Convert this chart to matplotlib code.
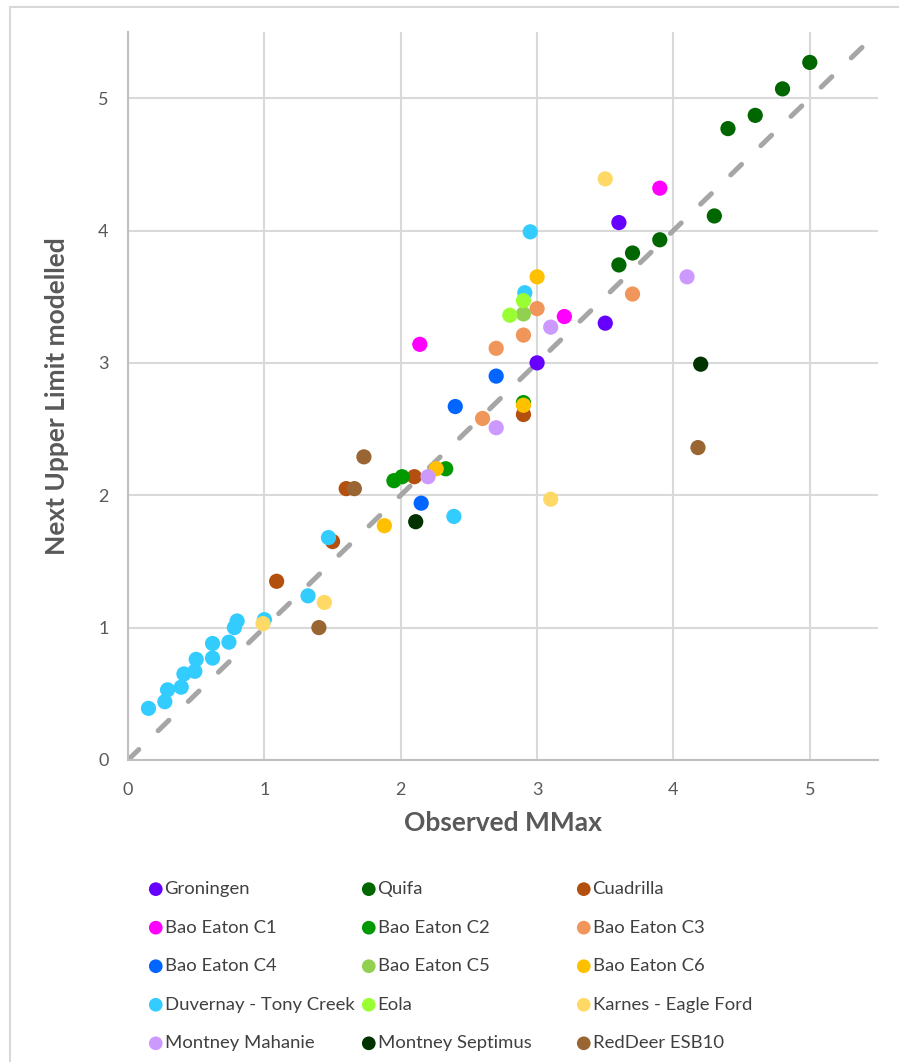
import numpy as np
import matplotlib
matplotlib.use("Agg")
import matplotlib.pyplot as plt
from matplotlib.patches import Rectangle

plt.rcParams['font.family'] = ['Lato', 'DejaVu Sans']

# Series names and colours, in legend (row-major) order
names = [
    "Groningen", "Quifa", "Cuadrilla",
    "Bao Eaton C1", "Bao Eaton C2", "Bao Eaton C3",
    "Bao Eaton C4", "Bao Eaton C5", "Bao Eaton C6",
    "Duvernay - Tony Creek", "Eola", "Karnes - Eagle Ford",
    "Montney Mahanie", "Montney Septimus", "RedDeer ESB10",
]
colors = [
    "#6600FF", "#006600", "#B4500F",
    "#FF00FF", "#009900", "#F0965A",
    "#0066FF", "#92D050", "#FFC000",
    "#33CCFF", "#99FF33", "#FFD966",
    "#CC99FF", "#003300", "#996633",
]

# Observed MMax (x) and next upper limit modelled (y) per series
groningen_x = [3.0, 3.5, 3.6]
groningen_y = [3.0, 3.3, 4.06]
quifa_x = [3.6, 3.7, 3.9, 4.3, 4.4, 4.6, 4.8, 5.0]
quifa_y = [3.74, 3.83, 3.93, 4.11, 4.77, 4.87, 5.07, 5.27]
cuadrilla_x = [1.09, 1.50, 1.60, 2.10, 2.90]
cuadrilla_y = [1.35, 1.65, 2.05, 2.14, 2.61]
bao_c1_x = [2.14, 3.20, 3.90]
bao_c1_y = [3.14, 3.35, 4.32]
bao_c2_x = [1.95, 2.01, 2.33, 2.90]
bao_c2_y = [2.11, 2.14, 2.20, 2.70]
bao_c3_x = [2.60, 2.70, 2.90, 3.00, 3.70]
bao_c3_y = [2.58, 3.11, 3.21, 3.41, 3.52]
bao_c4_x = [2.15, 2.40, 2.70]
bao_c4_y = [1.94, 2.67, 2.90]
bao_c5_x = [2.90]
bao_c5_y = [3.37]
bao_c6_x = [1.88, 2.26, 2.90, 3.00]
bao_c6_y = [1.77, 2.20, 2.68, 3.65]
duvernay_x = [0.15, 0.27, 0.29, 0.39, 0.41, 0.49, 0.50, 0.62, 0.62, 0.74,
              0.78, 0.80, 1.00, 1.32, 1.47, 2.39, 2.91, 2.95]
duvernay_y = [0.39, 0.44, 0.53, 0.55, 0.65, 0.67, 0.76, 0.77, 0.88, 0.89,
              1.00, 1.05, 1.06, 1.24, 1.68, 1.84, 3.53, 3.99]
eola_x = [2.80, 2.90]
eola_y = [3.36, 3.47]
karnes_x = [0.99, 1.44, 3.10, 3.50]
karnes_y = [1.03, 1.19, 1.97, 4.39]
mahanie_x = [2.20, 2.70, 3.10, 4.10]
mahanie_y = [2.14, 2.51, 3.27, 3.65]
septimus_x = [2.11, 4.20]
septimus_y = [1.80, 2.99]
reddeer_x = [1.40, 1.66, 1.73, 4.18]
reddeer_y = [1.00, 2.05, 2.29, 2.36]

xs = [groningen_x, quifa_x, cuadrilla_x, bao_c1_x, bao_c2_x, bao_c3_x,
      bao_c4_x, bao_c5_x, bao_c6_x, duvernay_x, eola_x, karnes_x,
      mahanie_x, septimus_x, reddeer_x]
ys = [groningen_y, quifa_y, cuadrilla_y, bao_c1_y, bao_c2_y, bao_c3_y,
      bao_c4_y, bao_c5_y, bao_c6_y, duvernay_y, eola_y, karnes_y,
      mahanie_y, septimus_y, reddeer_y]

ticks = [0, 1, 2, 3, 4, 5]
axis_max = 5.5

fig = plt.figure(figsize=(8.99, 10.62), dpi=100)
ax = fig.add_axes([0.1424, 0.2844, 0.8342, 0.6855])

# outer chart frame (light grey, top and left edges visible)
fig.patches.append(Rectangle((10 / 899, -0.1), 1.2, 1.0 - 7 / 1062 + 0.1,
                             transform=fig.transFigure, fill=False,
                             edgecolor="#D9D9D9", linewidth=1.5))

# 1:1 reference line
ax.plot([0, axis_max], [0, axis_max], color="#A6A6A6", linewidth=3.6,
        dashes=(3, 5.4), dash_capstyle="round", zorder=2)

handles = []
for name, c, x, y in zip(names, colors, xs, ys):
    h = ax.scatter(x, y, s=120, color=c, edgecolors="none", label=name, zorder=3)
    handles.append(h)

ax.set_xlim(0, axis_max)
ax.set_ylim(0, axis_max)
ax.set_xticks(ticks)
ax.set_yticks(ticks)
ax.grid(True, color="#D9D9D9", linewidth=1.5)
ax.set_axisbelow(True)
for side in ["top", "right"]:
    ax.spines[side].set_visible(False)
for side in ["left", "bottom"]:
    ax.spines[side].set_color("#BFBFBF")
    ax.spines[side].set_linewidth(1.5)
ax.tick_params(length=0, labelsize=13, labelcolor="#595959")
ax.tick_params(axis="y", pad=14)
ax.tick_params(axis="x", pad=16)

ax.set_xlabel("Observed MMax", fontsize=19, fontweight="bold", color="#595959", labelpad=9)
ax.set_ylabel("Next Upper Limit modelled", fontsize=19, fontweight="bold", color="#595959", labelpad=21)

# legend: three fixed-width columns like the spreadsheet layout
col_x = [147 / 899, 360 / 899, 575 / 899]
for i in range(3):
    fig.legend(handles=handles[i::3], loc="upper left",
               bbox_to_anchor=(col_x[i], 1 - 881 / 1062),
               frameon=False, fontsize=13.3, labelcolor="#404040",
               handletextpad=0.0, handlelength=0.95, markerscale=0.9,
               labelspacing=1.22, borderpad=0, borderaxespad=0)

fig.savefig("out.png", dpi=100)
